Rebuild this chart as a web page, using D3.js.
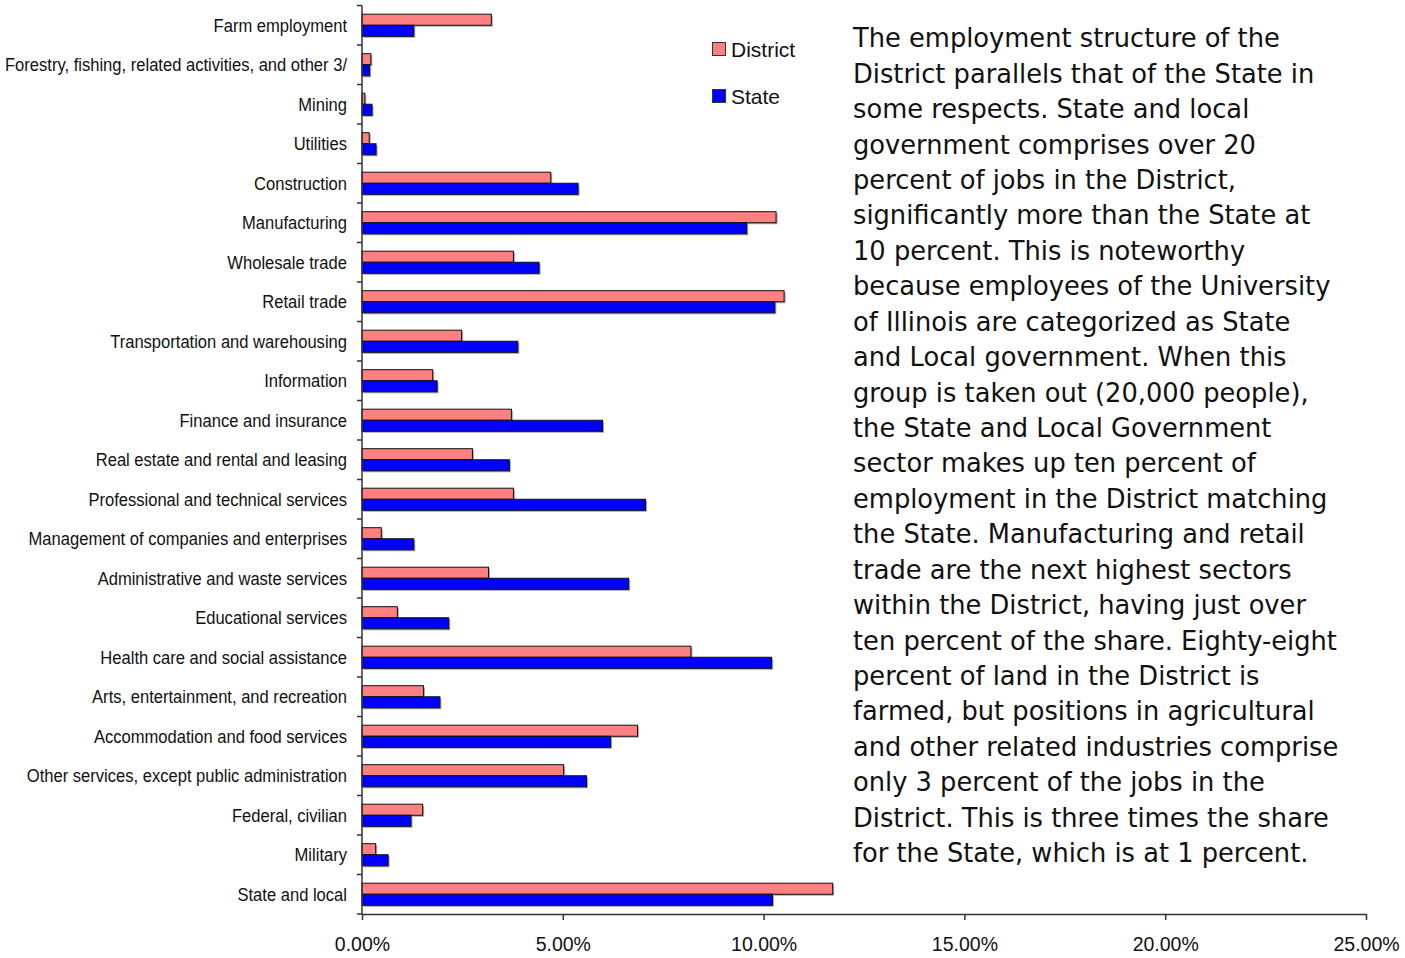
<!DOCTYPE html>
<html>
<head>
<meta charset="utf-8">
<script src="https://cdn.jsdelivr.net/npm/d3@7"></script>
<style>
  html, body { margin: 0; padding: 0; background: #fff; }
  svg { display: block; }
</style>
</head>
<body>
<svg id="chart" width="1405" height="958"></svg>
<script>
// Share of total employment by industry, District vs State
const categories = [
  "Farm employment",
  "Forestry, fishing, related activities, and other 3/",
  "Mining",
  "Utilities",
  "Construction",
  "Manufacturing",
  "Wholesale trade",
  "Retail trade",
  "Transportation and warehousing",
  "Information",
  "Finance and insurance",
  "Real estate and rental and leasing",
  "Professional and technical services",
  "Management of companies and enterprises",
  "Administrative and waste services",
  "Educational services",
  "Health care and social assistance",
  "Arts, entertainment, and recreation",
  "Accommodation and food services",
  "Other services, except public administration",
  "Federal, civilian",
  "Military",
  "State and local"
];
const district = [3.22, 0.22, 0.07, 0.18, 4.70, 10.31, 3.77, 10.51, 2.48, 1.76, 3.72, 2.75, 3.77, 0.48, 3.15, 0.88, 8.19, 1.53, 6.86, 5.02, 1.51, 0.34, 11.72];
const state    = [1.29, 0.19, 0.25, 0.35, 5.38, 9.58, 4.41, 10.28, 3.88, 1.87, 5.99, 3.67, 7.06, 1.29, 6.64, 2.16, 10.20, 1.94, 6.19, 5.59, 1.22, 0.65, 10.22];
const seriesNames = ["District", "State"];
const xTicks = [0, 5, 10, 15, 20, 25];

const paragraph = [
  "The employment structure of the",
  "District parallels that of the State in",
  "some respects. State and local",
  "government comprises over 20",
  "percent of jobs in the District,",
  "significantly more than the State at",
  "10 percent. This is noteworthy",
  "because employees of the University",
  "of Illinois are categorized as State",
  "and Local government. When this",
  "group is taken out (20,000 people),",
  "the State and Local Government",
  "sector makes up ten percent of",
  "employment in the District matching",
  "the State. Manufacturing and retail",
  "trade are the next highest sectors",
  "within the District, having just over",
  "ten percent of the share. Eighty-eight",
  "percent of land in the District is",
  "farmed, but positions in agricultural",
  "and other related industries comprise",
  "only 3 percent of the jobs in the",
  "District. This is three times the share",
  "for the State, which is at 1 percent."
];

const colors = { District: "#FF8080", State: "#0000FF" };

const svg = d3.select("#chart");
const plot = { left: 362, right: 1366, top: 5.5, bottom: 914 };

const x = d3.scaleLinear().domain([0, 25]).range([plot.left, plot.right]);
const y = d3.scaleBand().domain(categories).range([plot.top, plot.bottom]).paddingInner(0.44).paddingOuter(0.22);
const ySub = d3.scaleBand().domain(seriesNames).range([0, y.bandwidth()]);

const rows = categories.map((c, i) => ({ cat: c, District: district[i], State: state[i] }));

// bars with a faint drop shadow
const g = svg.append("g");
rows.forEach(r => {
  seriesNames.forEach(s => {
    const bx = x(0), by = y(r.cat) + ySub(s), bw = x(r[s]) - x(0), bh = ySub.bandwidth();
    g.append("rect")
      .attr("x", bx + 1.5).attr("y", by + 1.5)
      .attr("width", bw).attr("height", bh)
      .attr("fill", "#a8a8a8");
    g.append("rect")
      .attr("x", bx).attr("y", by)
      .attr("width", bw).attr("height", bh)
      .attr("fill", colors[s])
      .attr("stroke", "#111").attr("stroke-width", 1);
  });
});

// category axis
const yAxisG = svg.append("g");
yAxisG.append("line")
  .attr("x1", plot.left).attr("x2", plot.left)
  .attr("y1", plot.top).attr("y2", plot.bottom)
  .attr("stroke", "#333").attr("stroke-width", 1.5);
const step = (plot.bottom - plot.top) / categories.length;
d3.range(categories.length + 1).forEach(i => {
  const ty = plot.top + i * step;
  yAxisG.append("line")
    .attr("x1", plot.left - 5).attr("x2", plot.left)
    .attr("y1", ty).attr("y2", ty)
    .attr("stroke", "#333").attr("stroke-width", 1.5);
});
const catText = yAxisG.selectAll("text.cat").data(categories).join("text")
  .attr("class", "cat")
  .attr("x", plot.left - 15)
  .attr("y", d => y(d) + y.bandwidth() / 2)
  .attr("dy", "0.36em")
  .attr("text-anchor", "end")
  .attr("font-family", "'Liberation Sans', Arial, sans-serif")
  .attr("font-size", 17.5)
  .attr("fill", "#111")
  .text(d => d);
// narrow face: compress labels horizontally so the longest spans 342px
const longest = d3.max(catText.nodes(), n => n.getComputedTextLength());
const narrow = 342 / longest;
catText.each(function () {
  const w = this.getComputedTextLength();
  d3.select(this).attr("textLength", w * narrow).attr("lengthAdjust", "spacingAndGlyphs");
});

// value axis
const xAxis = d3.axisBottom(x).tickValues(xTicks).tickSize(6).tickSizeOuter(0)
  .tickFormat(d => d3.format(".2f")(d) + "%");
const xAxisG = svg.append("g").attr("transform", `translate(0,${plot.bottom})`).call(xAxis);
xAxisG.select(".domain").attr("stroke", "#333").attr("stroke-width", 1.5);
xAxisG.selectAll(".tick line").attr("stroke", "#333").attr("stroke-width", 1.5);
xAxisG.selectAll(".tick text")
  .attr("y", 23)
  .attr("font-family", "'Liberation Sans', Arial, sans-serif")
  .attr("font-size", 19.5)
  .attr("fill", "#111");

// legend
const legend = svg.append("g");
seriesNames.forEach((s, i) => {
  const ly = 42 + i * 47;
  legend.append("rect")
    .attr("x", 712.5).attr("y", ly + 0.5).attr("width", 13).attr("height", 13)
    .attr("fill", colors[s]).attr("stroke", "#333").attr("stroke-width", 1);
  legend.append("text")
    .attr("x", 731).attr("y", ly + 7).attr("dy", "0.36em")
    .attr("font-family", "'Liberation Sans', Arial, sans-serif")
    .attr("font-size", 21).attr("fill", "#111")
    .text(s);
});

// explanatory note
const note = svg.append("g")
  .attr("font-family", "'DejaVu Sans', Verdana, sans-serif")
  .attr("fill", "#111");
const noteText = note.selectAll("text").data(paragraph).join("text")
  .attr("x", 853)
  .attr("y", (d, i) => 38 + i * 35.43)
  .attr("dy", "0.36em")
  .attr("font-size", 25)
  .text(d => d);
// size the note so its first line spans 427px
const firstW = noteText.node().getComputedTextLength();
noteText.attr("font-size", 25 * 427 / firstW);
</script>
</body>
</html>
